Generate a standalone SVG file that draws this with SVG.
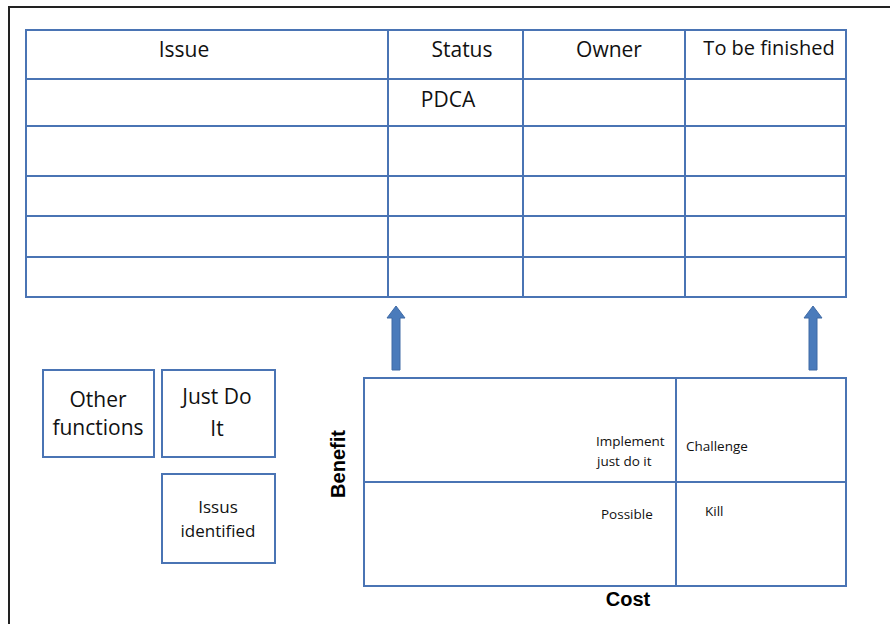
<svg xmlns="http://www.w3.org/2000/svg" width="890" height="624" viewBox="0 0 890 624">
<style>
.ln{fill:none;stroke:#4a74b4;stroke-width:2}
.box{fill:#fff;stroke:#4a74b4;stroke-width:2}
.t{font-family:"Open Sans","Noto Sans",sans-serif;fill:#111;text-anchor:middle}
.h{font-size:21px}
.s{font-size:13.5px;text-anchor:start}
.b{font-family:"Liberation Sans",sans-serif;font-weight:bold;fill:#000;text-anchor:middle}
.arr{fill:#4a7bbb;stroke:#3f6aa5;stroke-width:1}
</style>
<rect width="890" height="624" fill="#fff"/>
<path d="M9,624 V7 H890" fill="none" stroke="#222" stroke-width="2"/>
<g id="table">
<rect class="box" x="26" y="30" width="820" height="267"/>
<path class="ln" d="M388,30V297M523,30V297M685,30V297M26,79H846M26,126H846M26,176H846M26,216H846M26,257H846"/>
<text class="t h" x="184" y="57">Issue</text>
<text class="t h" x="462" y="57">Status</text>
<text class="t h" x="609" y="57">Owner</text>
<text class="t" x="769" y="55" font-size="20">To be finished</text>
<text class="t h" x="448" y="107">PDCA</text>
</g>
<g id="connectors">
<path class="arr" d="M392,370V318H387L396,306L405,318H400V370Z"/>
<path class="arr" d="M809,370V318H804L813,306L822,318H817V370Z"/>
</g>
<g id="other-functions">
<rect class="box" x="43" y="370" width="111" height="87"/>
<text class="t h" x="98" y="407">Other</text>
<text class="t h" x="98" y="435">functions</text>
</g>
<g id="just-do-it">
<rect class="box" x="162" y="370" width="113" height="87"/>
<text class="t h" x="217" y="404">Just Do</text>
<text class="t h" x="217" y="436">It</text>
</g>
<g id="issus-identified">
<rect class="box" x="162" y="474" width="113" height="89"/>
<text class="t" x="218" y="513" font-size="17">Issus</text>
<text class="t" x="218" y="537" font-size="17">identified</text>
</g>
<g id="matrix">
<rect class="box" x="364" y="378" width="482" height="208"/>
<path class="ln" d="M676,378V586M364,482H846"/>
<text class="t s" x="596" y="446">Implement</text>
<text class="t s" x="597" y="466">just do it</text>
<text class="t s" x="686" y="451">Challenge</text>
<text class="t s" x="601" y="519">Possible</text>
<text class="t s" x="705" y="516">Kill</text>
<text class="b" font-size="20" transform="translate(345,464) rotate(-90)">Benefit</text>
<text class="b" font-size="20" x="628" y="606">Cost</text>
</g>
</svg>
